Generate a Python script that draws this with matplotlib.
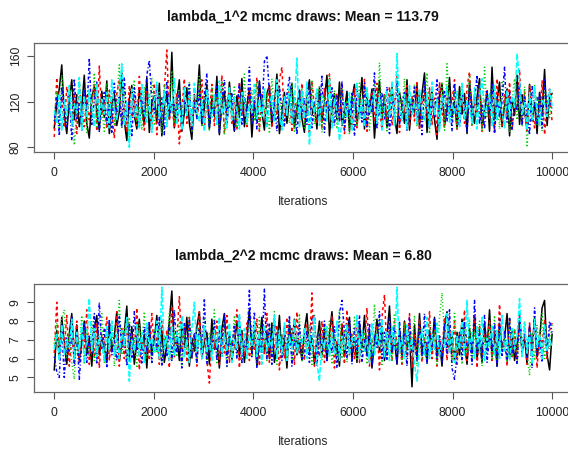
import numpy as np
import matplotlib
matplotlib.use("Agg")
import matplotlib.pyplot as plt

plt.rcParams['font.family'] = ['Liberation Sans', 'DejaVu Sans']

# ---- data (200 per chain) ----
n_iter = 10000
chain_colors = ['black', '#FF0000', '#00CD00', '#0000FF', '#00FFFF']
chain_styles = ['-', (0, (2, 2)), (0, (0.7, 1.6)), (0, (0.7, 1.5, 2, 1.5)), (0, (3.5, 1.2))]

black1 = [97,118,131,152,108,92,121,139,104,126,98,115,143,101,88,124,133,110,95,129,
          106,138,92,117,127,99,111,145,103,86,122,134,108,96,131,115,100,141,93,119,
          125,102,136,90,113,128,105,163,97,121,139,94,110,132,101,87,126,118,152,99,
          114,135,96,123,107,142,91,118,129,100,137,112,94,125,106,140,98,116,131,89,
          120,103,138,111,95,127,134,99,117,144,92,109,128,101,123,136,97,114,130,105,
          93,126,139,108,118,96,132,102,121,143,90,115,127,104,137,99,112,129,94,122,
          135,100,117,141,96,124,109,131,88,119,138,103,126,97,114,133,107,92,128,116,
          101,139,95,122,110,134,98,127,145,93,118,130,104,87,125,136,99,113,141,106,
          120,96,133,109,127,92,138,115,101,124,140,97,111,129,94,150,105,121,137,98,
          116,131,90,123,108,143,100,126,112,95,135,103,119,92,128,110,148,99,124,127]
red1 = [89,141,106,124,97,133,115,101,128,92,137,110,98,125,104,119,135,94,151,108,
        121,96,130,112,88,127,139,102,117,93,134,106,122,99,142,110,95,129,114,100,
        136,91,124,108,131,165,103,119,97,128,83,113,140,101,125,94,132,107,118,139,
        96,122,110,135,99,127,104,143,92,116,130,101,124,95,137,109,120,98,133,106,
        119,141,94,126,112,100,134,97,121,108,139,150,103,117,131,93,125,110,99,136,
        105,128,91,138,114,101,123,96,132,109,144,98,118,127,103,135,92,120,113,100,
        131,97,124,108,140,94,119,129,102,136,111,96,126,105,133,99,117,142,93,121,
        110,134,98,125,103,138,95,119,128,106,132,100,123,91,137,112,97,129,108,120,
        139,96,115,127,101,133,146,98,122,109,135,94,118,130,104,124,92,140,112,99,
        126,107,137,95,121,113,148,100,129,93,134,110,97,125,104,138,91,119,131,102]
green1 = [108,129,96,143,117,101,134,120,82,112,138,99,126,93,131,107,145,98,122,114,
          94,136,105,127,100,119,152,97,130,111,89,124,139,103,116,95,133,108,121,141,
          99,113,128,92,135,106,122,147,101,118,131,96,125,110,137,93,120,104,142,98,
          127,115,94,133,109,124,100,138,91,119,129,105,134,97,121,112,144,99,116,130,
          103,137,95,123,110,128,92,140,106,117,132,98,125,113,101,136,94,120,108,131,
          97,126,114,139,100,118,133,93,124,109,142,102,129,96,115,135,105,121,91,127,
          112,98,136,104,123,131,95,117,139,101,154,107,126,93,120,134,99,113,128,106,
          140,96,122,110,135,98,127,103,118,145,92,130,108,124,100,137,95,153,114,102,
          129,97,121,136,105,116,143,99,125,110,132,94,150,107,119,134,101,123,96,138,
          111,128,93,120,140,104,126,98,133,80,117,109,135,100,124,94,131,113,106,127]
blue1 = [103,124,90,133,111,98,127,86,140,105,119,95,131,108,158,100,122,137,94,115,
         128,101,118,92,136,109,125,97,141,104,120,89,132,113,99,127,106,143,156,121,
         110,134,98,124,91,138,107,117,117,102,129,96,122,111,135,93,119,105,131,100,
         126,144,97,115,108,133,92,121,139,103,118,128,95,112,136,99,124,107,150,101,
         122,96,137,110,155,160,128,104,119,94,133,113,98,126,141,105,117,91,130,109,
         123,100,135,97,116,129,106,142,93,120,111,132,99,125,103,138,95,118,108,127,
         90,131,114,102,136,98,122,110,145,96,119,128,104,133,92,124,107,139,100,117,
         129,95,121,108,134,101,126,91,138,113,97,123,106,140,99,117,130,103,125,94,
         136,110,98,127,115,93,132,104,121,143,100,118,96,129,109,135,92,124,106,120,
         150,102,128,95,119,112,137,99,124,107,91,133,116,101,127,97,139,110,122,114]
cyan1 = [112,101,127,95,121,108,134,99,118,110,141,94,125,106,130,117,98,136,103,122,
         109,128,97,139,113,104,124,153,100,119,80,131,107,116,96,135,111,102,126,93,
         120,137,105,114,129,98,123,110,140,101,117,95,132,108,125,99,136,112,103,121,
         94,130,115,106,127,100,138,109,119,97,133,104,124,113,96,128,120,102,118,110,
         135,105,122,107,131,98,117,126,103,139,111,95,124,108,133,100,120,158,97,129,
         105,137,82,121,110,131,99,125,116,103,140,96,122,112,86,101,119,107,128,94,
         117,136,104,123,98,132,110,120,128,101,127,95,115,130,106,138,99,162,112,103,
         126,96,134,109,119,100,131,113,104,128,97,137,108,122,94,125,115,133,102,118,
         110,129,98,136,105,120,114,101,132,96,124,140,108,117,127,99,135,103,121,111,
         97,130,106,125,115,162,138,109,119,95,128,104,133,112,99,122,117,107,131,116]

black2 = [5.4,7.5,6.1,8.2,6.8,5.7,7.3,8.4,6.0,7.8,5.9,6.9,8.0,6.3,7.1,5.6,7.6,8.3,6.2,7.0,
          6.6,5.8,7.9,6.4,7.2,8.5,5.9,6.8,7.4,8.8,6.1,7.7,5.7,6.9,8.1,6.5,7.3,5.5,7.8,6.2,
          7.0,8.3,6.0,7.5,5.8,6.7,8.0,9.6,6.3,7.2,5.9,7.9,6.6,8.2,5.6,7.1,6.4,7.7,8.5,6.0,
          6.9,7.4,5.7,8.1,6.5,7.0,5.5,7.6,8.4,6.2,7.3,5.9,6.8,8.0,6.1,7.5,5.8,7.1,8.6,6.4,
          7.7,5.6,6.9,8.2,6.3,7.4,6.0,7.9,5.8,6.6,8.3,6.1,7.2,5.5,7.8,6.7,8.1,6.2,7.0,5.9,
          7.5,8.4,6.4,7.1,5.7,6.8,8.0,6.2,7.6,5.9,7.3,8.5,6.5,6.9,5.6,7.8,6.1,7.4,8.2,6.0,
          7.1,5.8,7.9,6.6,8.3,6.2,7.5,5.5,6.9,8.1,6.4,7.7,5.9,7.2,8.8,6.3,7.0,5.7,7.6,6.1,
          8.0,6.5,7.3,4.5,7.8,6.0,8.4,6.3,7.1,5.8,7.5,6.7,8.2,6.1,6.9,5.6,7.7,8.5,6.4,7.2,
          5.9,7.4,6.2,8.1,6.8,5.7,7.6,6.3,8.3,6.0,7.0,5.8,7.9,6.5,8.6,6.1,7.3,5.6,7.8,6.6,
          7.1,8.4,6.0,7.5,5.9,6.8,8.0,6.3,7.2,5.7,7.7,6.4,8.2,6.1,7.0,8.7,9.1,6.2,5.4,7.3]
red2 = [6.3,9.0,5.9,7.7,6.6,8.3,5.6,7.1,6.2,8.0,5.8,7.4,6.5,8.6,5.7,7.0,6.1,7.9,5.5,7.3,
        6.8,8.2,5.9,7.0,6.4,8.5,5.6,7.6,6.0,8.1,5.8,7.3,6.5,8.7,5.4,7.1,6.2,7.8,5.9,8.4,
        6.3,7.2,5.7,8.0,6.6,7.5,5.5,8.8,6.1,7.0,9.3,6.4,7.7,5.8,8.2,6.0,7.3,5.6,8.5,6.2,
        7.4,5.9,4.7,7.1,6.5,8.0,5.7,7.6,6.3,8.3,5.8,7.0,6.6,8.6,5.5,7.4,6.1,7.9,5.9,7.2,
        6.4,8.1,5.6,7.5,6.2,8.4,5.8,7.0,6.5,7.8,5.4,7.3,6.0,8.2,6.7,7.6,5.7,8.5,6.3,7.1,
        5.9,7.8,6.4,9.5,5.6,7.2,6.1,8.0,5.8,7.5,6.6,8.3,5.5,7.0,6.3,7.9,5.7,8.6,6.2,7.3,
        6.0,8.1,5.8,7.4,6.5,8.7,5.6,7.1,6.3,7.8,5.4,8.2,9.4,6.1,7.5,5.9,8.0,6.6,7.2,5.7,
        7.9,6.2,8.4,5.5,7.3,6.4,8.1,5.8,7.0,6.6,8.5,6.0,7.6,5.6,7.2,6.3,8.2,5.9,7.7,6.1,
        8.0,5.7,7.4,6.5,8.6,5.9,7.1,6.2,8.3,5.5,7.8,6.0,7.3,6.7,8.1,5.8,7.5,6.3,8.9,6.4,
        7.0,5.6,8.2,6.1,7.6,5.9,8.4,6.5,7.2,5.7,7.9,6.3,8.0,5.5,7.4,6.6,8.1,6.0,7.5,7.9]
green2 = [6.8,7.9,6.2,8.1,8.6,6.0,7.4,5.8,4.9,7.2,6.5,8.3,5.7,7.6,6.1,8.0,5.9,7.1,6.6,8.4,
          5.8,7.3,6.3,7.9,5.6,7.0,9.1,6.2,7.7,5.9,8.2,6.4,7.1,5.5,7.8,6.7,8.5,6.0,7.4,5.8,
          7.6,6.3,8.0,5.7,7.2,6.6,8.4,5.9,7.5,6.1,7.9,5.6,7.3,6.5,8.2,6.0,7.0,5.8,7.7,6.4,
          8.1,5.9,7.4,6.2,8.6,5.7,7.1,6.6,7.8,5.5,7.3,6.3,8.3,6.0,7.6,5.8,7.0,6.5,8.0,6.1,
          7.5,5.6,8.2,6.4,7.1,5.9,7.9,6.2,8.5,5.7,7.3,6.6,7.7,6.0,8.1,5.8,7.2,6.3,8.4,5.9,
          7.0,6.5,7.8,5.6,8.3,6.1,7.4,5.9,7.9,6.4,8.0,5.7,7.2,6.2,8.6,6.0,7.5,5.8,7.1,6.6,
          8.2,5.9,7.6,6.3,7.4,5.7,7.3,6.0,8.9,6.5,8.1,5.6,7.0,6.2,7.7,5.9,8.4,6.4,7.2,5.8,
          7.9,6.1,7.4,6.7,8.3,5.6,7.7,6.0,7.1,5.9,8.0,6.4,7.5,5.7,8.2,9.5,7.3,6.6,7.8,5.8,
          8.5,6.0,7.2,5.7,7.7,6.3,8.1,5.9,7.4,6.5,8.0,5.6,7.1,6.2,7.9,6.0,8.3,5.8,7.5,6.4,
          7.0,5.9,8.2,6.1,7.6,5.7,7.3,6.6,8.0,6.2,5.1,7.4,5.9,7.8,6.3,8.4,6.0,7.1,6.5,7.9]
blue2 = [6.1,5.3,5.0,7.8,5.0,7.1,6.4,8.2,5.6,7.4,4.9,6.8,7.9,5.8,7.2,6.3,8.4,5.7,9.0,6.5,
         7.6,5.5,8.1,6.2,7.0,5.9,8.3,6.6,7.3,5.6,7.9,6.0,8.5,6.4,7.1,5.7,7.7,6.3,8.0,5.8,
         7.4,6.5,8.2,5.6,7.0,6.1,7.8,5.9,8.6,6.3,7.2,5.5,7.9,6.7,8.1,6.0,7.4,5.8,7.6,6.2,
         9.2,5.7,7.1,6.4,8.0,5.9,7.5,6.2,8.4,5.6,7.3,6.6,7.8,6.0,8.2,5.8,7.0,6.5,9.7,6.1,
         8.5,5.5,7.2,6.3,9.7,6.0,7.9,5.7,8.1,6.4,7.2,5.9,7.6,6.2,8.3,5.6,7.0,6.6,7.8,6.0,
         6.1,7.5,5.8,8.2,8.3,5.6,7.3,6.4,8.0,5.9,7.1,6.3,7.7,5.5,8.4,9.1,7.4,6.0,8.1,5.7,
         7.6,6.5,8.3,5.8,7.0,6.1,7.9,5.6,7.2,6.6,8.5,6.0,7.4,5.9,8.2,6.3,7.7,5.7,8.0,6.2,
         7.3,5.6,8.2,6.4,7.0,5.9,7.8,6.1,8.4,5.7,7.5,6.5,8.1,6.0,7.2,5.8,7.9,6.3,8.6,5.5,
         4.9,6.2,7.4,5.9,8.0,6.6,7.1,5.7,9.1,6.3,7.6,6.0,8.3,5.8,7.2,6.4,7.9,5.6,8.1,6.1,
         7.5,5.9,8.2,6.3,7.0,5.7,8.4,6.5,7.3,6.0,7.8,5.5,8.7,6.2,7.1,5.8,7.6,6.4,8.0,7.4]
cyan2 = [6.5,7.3,5.9,7.8,6.2,7.0,6.6,8.1,6.0,7.4,6.3,7.9,5.8,7.1,9.2,6.4,7.6,6.1,7.2,6.8,
         5.9,7.7,6.5,8.0,6.2,7.3,6.0,7.5,6.7,8.2,4.8,7.0,6.4,7.8,6.1,7.4,5.8,7.9,6.6,7.1,
         6.3,8.0,6.0,9.8,6.5,7.2,5.9,7.7,6.2,7.4,6.8,8.3,6.1,7.0,5.8,7.6,9.0,6.4,7.3,6.0,
         7.8,6.3,7.1,5.9,7.5,6.6,8.2,6.1,7.3,6.4,7.9,5.8,7.0,6.5,8.4,6.2,7.6,6.0,7.2,6.7,
         8.0,6.1,7.4,5.7,7.8,6.4,7.1,6.6,8.3,6.0,7.5,6.2,7.9,5.9,7.2,6.5,8.1,6.3,7.0,6.8,
         7.6,6.0,7.3,6.4,8.2,5.8,4.8,7.0,6.6,7.7,6.1,7.4,6.3,8.0,5.9,7.2,6.5,7.8,6.2,7.1,
         6.7,8.3,6.0,7.5,6.4,7.0,5.8,7.9,6.2,7.3,6.6,8.1,6.1,7.4,5.9,7.7,6.5,9.8,6.3,7.2,
         6.0,7.8,6.4,7.1,5.7,4.8,6.8,7.6,6.2,8.2,6.0,7.3,6.5,7.9,6.1,7.0,6.6,8.4,6.3,7.5,
         5.8,7.2,6.5,8.0,6.1,9.1,6.4,7.4,6.0,7.7,6.3,8.2,5.9,7.1,6.6,7.8,6.2,7.5,6.0,8.3,
         6.4,7.0,5.9,7.6,6.5,7.2,9.2,6.1,7.9,6.3,7.4,5.7,8.1,6.6,7.3,6.0,7.8,6.4,7.1,6.6]

panel1 = [black1, red1, green1, blue1, cyan1]
panel2 = [black2, red2, green2, blue2, cyan2]
title1 = "lambda_1^2 mcmc draws: Mean = 113.79"
title2 = "lambda_2^2 mcmc draws: Mean = 6.80"
xticks = [0, 2000, 4000, 6000, 8000, 10000]
yticks1 = [80, 120, 160]
yticks2 = [5, 6, 7, 8, 9]

W, H = 568, 450
fig = plt.figure(figsize=(W / 100, H / 100), dpi=100)

def px_axes(left, top, right, bottom):
    return fig.add_axes([left / W, 1 - bottom / H, (right - left) / W, (bottom - top) / H])

ax1 = px_axes(34.3, 42.7, 572, 152)
ax2 = px_axes(34.3, 283.5, 572, 391.7)

def draw(ax, chains, ylim, yticks, title, title_y, xlab_y):
    for vals, c, ls in zip(chains, chain_colors, chain_styles):
        x = np.linspace(1, n_iter, len(vals))
        ax.plot(x, vals, color=c, linestyle=ls, linewidth=1.1)
    ax.set_xlim(-400, 10400)
    ax.set_ylim(*ylim)
    ax.set_xticks(xticks)
    ax.set_xticklabels([str(t) for t in xticks])
    ax.set_yticks(yticks)
    ax.set_yticklabels([str(t) for t in yticks], rotation=90, va='center')
    ax.tick_params(axis='both', length=5, width=0.8, color='#555555',
                   labelsize=8.8, labelcolor='#222222')
    ax.tick_params(axis='x', pad=6)
    ax.tick_params(axis='y', pad=4)
    for s in ax.spines.values():
        s.set_color('#666666')
        s.set_linewidth(0.9)
    fig.text(303 / W, 1 - title_y / H, title, ha='center', va='center',
             fontsize=10.1, fontweight='bold', color='#111111')
    fig.text(303 / W, 1 - xlab_y / H, "Iterations", ha='center', va='center',
             fontsize=8.8, color='#222222')

draw(ax1, panel1, (75.9, 171.4), yticks1, title1, 17, 202)
draw(ax2, panel2, (4.24, 10.0), yticks2, title2, 256, 442)

fig.savefig("out.png", dpi=100)
